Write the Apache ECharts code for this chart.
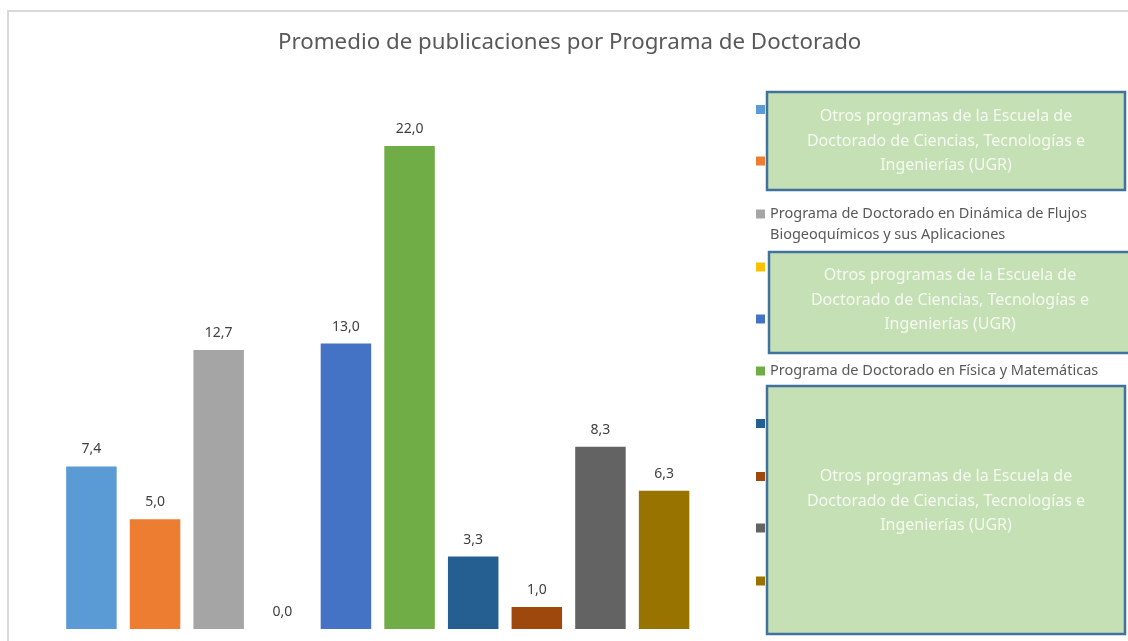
<!DOCTYPE html>
<html>
<head>
<meta charset="utf-8">
<script src="https://cdn.jsdelivr.net/npm/echarts@6/dist/echarts.min.js"></script>
<style>
html,body{margin:0;padding:0;background:#fff;}
#chart{width:1128px;height:641px;}
</style>
</head>
<body>
<div id="chart"></div>
<script>
const chartTitle = 'Promedio de publicaciones por Programa de Doctorado';
const seriesNames = [
  'Otros programas (1)',
  'Otros programas (2)',
  'Programa de Doctorado en Dinámica de Flujos Biogeoquímicos y sus Aplicaciones',
  'Otros programas (3)',
  'Otros programas (4)',
  'Programa de Doctorado en Física y Matemáticas',
  'Otros programas (5)',
  'Otros programas (6)',
  'Otros programas (7)',
  'Otros programas (8)'
];
const seriesValues = [7.4, 5.0, 12.7, 0.0, 13.0, 22.0, 3.3, 1.0, 8.3, 6.3];
const boxText = 'Otros programas de la Escuela de\nDoctorado de Ciencias, Tecnologías e\nIngenierías (UGR)';

const colors = ['#5B9BD5','#ED7D31','#A5A5A5','#FFC000','#4472C4','#70AD47','#255E91','#9E480E','#636363','#997300'];
const FONT = '"Noto Sans", "Open Sans", sans-serif';
const legendCenters = [109.5, 161, 214, 267, 319, 371, 423.5, 476.5, 528, 581];

const chart = echarts.init(document.getElementById('chart'), null, {renderer: 'canvas'});

const series = seriesNames.map((name, i) => ({
  name: name,
  type: 'bar',
  data: [seriesValues[i]],
  barWidth: 50.5,
  barGap: '26%',
  itemStyle: {color: colors[i]},
  label: {
    show: true,
    position: 'top',
    distance: 10,
    color: '#404040',
    fontSize: 14,
    fontFamily: FONT,
    formatter: p => p.value.toFixed(1).replace('.', ',')
  },
  emphasis: {disabled: true}
}));

const legends = seriesNames.map((name, i) => ({
  data: [name],
  orient: 'vertical',
  left: 756,
  top: legendCenters[i] - 9,
  padding: 0,
  itemWidth: 9,
  itemHeight: 9,
  icon: 'rect',
  selectedMode: false,
  formatter: n => n.indexOf('Dinámica') >= 0 ? 'Programa de Doctorado en Dinámica de Flujos' : n,
  textStyle: {color: '#595959', fontSize: 14.5, fontFamily: FONT, lineHeight: 18}
}));

function box(x, y, w, h, ty) {
  return [
    {type: 'rect', z: 100, shape: {x: x, y: y, width: w, height: h},
     style: {fill: '#C5E0B4', stroke: '#41719C', lineWidth: 2.5}},
    {type: 'text', z: 101, x: x + w / 2, y: ty,
     style: {text: boxText, fill: '#F5F9F2', font: '16px ' + FONT, textAlign: 'center', textVerticalAlign: 'middle', lineHeight: 24.5}}
  ];
}

const option = {
  animation: false,
  title: {
    text: chartTitle,
    left: 273,
    top: 27,
    textStyle: {color: '#595959', fontSize: 22.3, fontWeight: 'normal', fontFamily: FONT}
  },
  legend: legends,
  grid: {left: 40, right: 412.5, top: 80, bottom: 12},
  xAxis: {type: 'category', data: [''], show: false},
  yAxis: {type: 'value', min: 0, max: 25, show: false},
  series: series,
  graphic: [
    {type: 'rect', z: 0, silent: true, shape: {x: 8, y: 11, width: 1200, height: 700},
     style: {fill: 'none', stroke: '#D9D9D9', lineWidth: 2}},
    {type: 'text', z: 50, x: 770, y: 235,
     style: {text: 'Biogeoquímicos y sus Aplicaciones', fill: '#595959', font: '14.5px ' + FONT, textVerticalAlign: 'middle'}},
    ...box(767, 92, 358, 98, 141),
    ...box(769, 252, 362, 101, 300),
    ...box(767, 386, 358, 248, 501)
  ]
};
chart.setOption(option);
</script>
</body>
</html>
